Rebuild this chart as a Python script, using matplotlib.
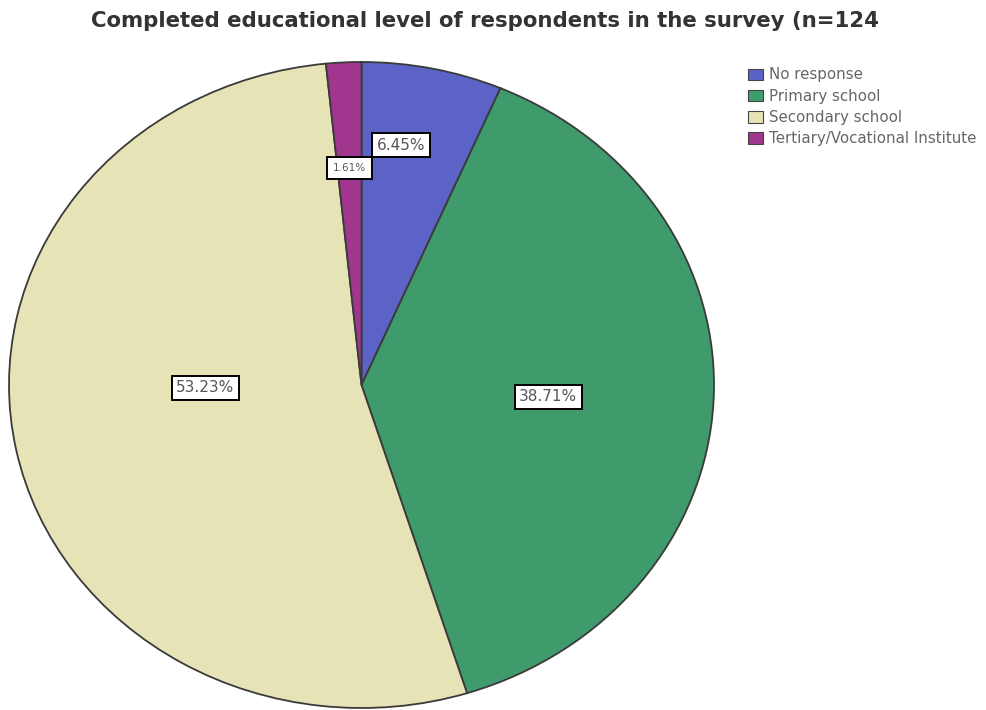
import matplotlib.pyplot as plt
import matplotlib.patches as mpatches

plt.rcParams['font.family'] = ['DejaVu Sans']

categories = ['No response', 'Primary school', 'Secondary school', 'Tertiary/Vocational Institute']
percents = [6.45, 38.71, 53.23, 1.61]
colors = ['#5b63c6', '#3f9a6c', '#e6e4b6', '#a2368e']
title = 'Completed educational level of respondents in the survey (n=124'

fig = plt.figure(figsize=(9.87, 7.10), dpi=100)

# pie is slightly stretched horizontally, so use a non-square axes
ax = fig.add_axes([9 / 987, 2 / 710, 705 / 987, 646 / 710])
wedges, _ = ax.pie(percents, colors=colors, startangle=90, counterclock=False,
                   radius=1.0, wedgeprops=dict(edgecolor='#3a3a3a', linewidth=1.3))
ax.set_aspect('auto')
ax.set_xlim(-1, 1)
ax.set_ylim(-1, 1)
ax.axis('off')

# percent labels in white boxes
label_xy = [(0.113, 0.743), (0.53, -0.037), (-0.443, -0.009), (-0.034, 0.672)]
font_sizes = [11, 11, 11, 7.5]
pads = [0.3, 0.3, 0.3, 0.55]
for (x, y), p, fs, pad in zip(label_xy, percents, font_sizes, pads):
    ax.text(x, y, '%.2f%%' % p, ha='center', va='center',
            fontsize=fs, color='#555555',
            bbox=dict(boxstyle='square,pad=%s' % pad, facecolor='white',
                      edgecolor='black', linewidth=1.4))

fig.text(485 / 987, 1 - 21 / 710, title, ha='center', va='center',
         fontsize=15.3, fontweight='bold', color='#333333')

handles = [mpatches.Patch(facecolor=c, edgecolor='#444444', linewidth=0.8) for c in colors]
fig.legend(handles, categories, loc='upper left', bbox_to_anchor=(735 / 987, 1 - 54 / 710),
           frameon=False, fontsize=10.8, handlelength=0.95, handleheight=0.8,
           handletextpad=0.4, labelspacing=0.42, labelcolor='#666666')

fig.savefig('out.png', dpi=100)
